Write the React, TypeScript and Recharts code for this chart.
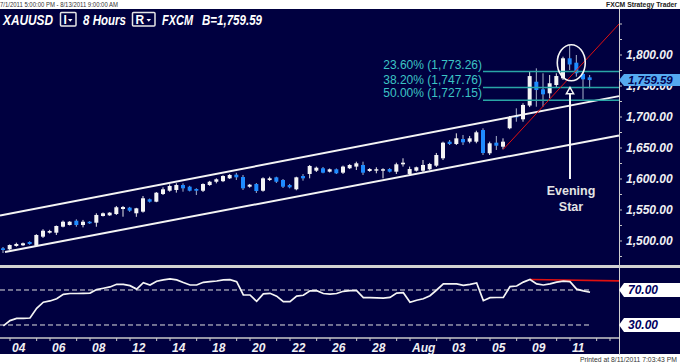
import React from 'react';
import { ComposedChart, Bar, Line, XAxis, YAxis, ReferenceLine, ReferenceDot } from 'recharts';

const NAVY = '#000040';
const FONT = '"Liberation Sans", Arial, sans-serif';

// 8-hour candles, XAU/USD, 1 Jul 2011 – 11 Aug 2011
const OPEN = [1488.2, 1486.6, 1492.0, 1493.1, 1498.4, 1492.4, 1507.0, 1513.4, 1513.4, 1523.1, 1525.8, 1532.7, 1525.8, 1531.1, 1529.5, 1540.3, 1541.4, 1543.5, 1551.6, 1553.8, 1544.7, 1547.3, 1567.3, 1563.4, 1575.8, 1581.1, 1582.3, 1590.3, 1587.6, 1583.9, 1581.1, 1590.3, 1595.6, 1596.5, 1601.1, 1607.0, 1603.2, 1587.6, 1591.9, 1581.1, 1598.4, 1602.7, 1598.4, 1590.3, 1583.4, 1604.8, 1608.1, 1613.4, 1617.3, 1611.8, 1615.7, 1610.2, 1617.3, 1620.0, 1622.6, 1612.9, 1613.4, 1613.4, 1616.1, 1611.8, 1623.7, 1608.1, 1613.4, 1613.4, 1615.7, 1621.5, 1633.4, 1660.2, 1656.5, 1664.5, 1660.2, 1660.2, 1679.0, 1641.5, 1658.6, 1652.1, 1681.8, 1701.6, 1696.3, 1718.5, 1756.9, 1744.7, 1738.2, 1751.6, 1762.4, 1794.7, 1787.6, 1769.4, 1764.0];
const HIGH = [1490.3, 1494.5, 1497.3, 1497.5, 1499.5, 1511.0, 1519.0, 1518.0, 1525.0, 1533.0, 1532.0, 1535.0, 1534.0, 1532.0, 1544.7, 1546.0, 1546.5, 1556.5, 1556.5, 1555.0, 1553.5, 1572.6, 1568.5, 1579.0, 1586.6, 1591.5, 1593.0, 1593.0, 1589.0, 1585.0, 1593.0, 1597.0, 1601.1, 1606.0, 1608.0, 1610.0, 1606.5, 1592.0, 1593.5, 1602.7, 1603.7, 1603.7, 1600.0, 1592.0, 1603.7, 1608.0, 1622.6, 1620.0, 1619.4, 1617.0, 1617.0, 1621.6, 1624.0, 1627.9, 1627.9, 1617.5, 1618.9, 1617.3, 1617.5, 1626.3, 1633.4, 1620.0, 1620.0, 1630.6, 1626.0, 1642.0, 1660.2, 1662.9, 1673.7, 1671.0, 1669.4, 1677.9, 1681.8, 1660.2, 1669.4, 1665.6, 1701.6, 1714.0, 1722.1, 1774.0, 1778.5, 1770.5, 1767.7, 1770.5, 1797.3, 1816.1, 1800.0, 1771.5, 1767.7];
const LOW = [1480.6, 1485.5, 1490.8, 1492.0, 1494.0, 1491.5, 1505.0, 1512.0, 1509.7, 1522.0, 1525.0, 1523.0, 1522.0, 1527.5, 1523.0, 1539.5, 1540.5, 1542.0, 1539.2, 1547.0, 1539.0, 1545.7, 1562.0, 1562.5, 1574.2, 1579.5, 1578.0, 1579.5, 1580.0, 1574.2, 1579.0, 1589.0, 1593.0, 1595.0, 1600.0, 1598.4, 1582.3, 1586.0, 1577.4, 1579.5, 1596.8, 1593.5, 1585.5, 1585.0, 1581.8, 1597.3, 1601.1, 1611.3, 1609.2, 1610.5, 1608.0, 1608.1, 1616.0, 1614.5, 1606.5, 1611.5, 1609.2, 1601.1, 1610.5, 1608.1, 1620.0, 1606.5, 1612.0, 1610.2, 1614.0, 1619.4, 1630.6, 1654.8, 1654.8, 1654.8, 1657.6, 1657.6, 1638.7, 1638.7, 1646.8, 1647.9, 1680.2, 1692.4, 1692.4, 1716.0, 1716.6, 1716.6, 1730.2, 1747.0, 1759.7, 1775.8, 1765.0, 1728.5, 1746.3];
const CLOSE = [1485.5, 1493.5, 1495.2, 1496.3, 1495.2, 1509.7, 1516.6, 1516.1, 1524.2, 1531.1, 1531.1, 1525.8, 1531.1, 1528.5, 1542.0, 1544.7, 1545.7, 1554.4, 1554.8, 1548.9, 1552.7, 1568.9, 1563.4, 1577.9, 1583.4, 1588.7, 1590.3, 1585.0, 1581.1, 1581.1, 1591.9, 1595.6, 1599.5, 1604.8, 1606.5, 1602.7, 1585.0, 1590.8, 1580.6, 1601.1, 1601.1, 1595.6, 1587.6, 1586.6, 1602.7, 1601.1, 1621.0, 1618.2, 1610.2, 1615.7, 1609.2, 1620.0, 1622.6, 1625.3, 1610.2, 1616.1, 1615.7, 1615.7, 1611.8, 1623.7, 1626.3, 1616.1, 1618.9, 1622.6, 1624.2, 1638.7, 1658.6, 1656.5, 1665.6, 1659.2, 1665.6, 1675.3, 1641.9, 1657.6, 1653.7, 1660.2, 1699.5, 1699.5, 1719.4, 1766.0, 1743.5, 1736.6, 1754.4, 1766.1, 1794.7, 1784.7, 1770.5, 1760.8, 1759.59];

// oscillator (lower panel)
const OSC = [29, 35, 37.5, 37.5, 38, 49, 56, 57.5, 60, 65, 66, 66, 66.2, 66.5, 70.5, 72, 73.5, 76.5, 76.5, 75, 71, 78.3, 75.7, 80, 81.5, 82.6, 81.5, 78.5, 75.7, 75.7, 78.8, 79.5, 80.3, 81.5, 81.8, 79.5, 64.3, 64.3, 57, 65.5, 66.2, 63, 56.6, 56.6, 63, 64, 69, 69.2, 66, 65.2, 66, 68.5, 69.2, 69.2, 61.2, 61.2, 61, 60.7, 61.5, 66.5, 66.9, 55.9, 58.3, 60, 63.5, 70, 76.9, 76.9, 76.9, 75.2, 76.5, 78, 57.8, 61.2, 61.4, 61.6, 73.8, 74.6, 79, 82, 77, 75.7, 77, 79, 80.2, 79.5, 71, 69, 67.4];

const LAST_PRICE = 1759.59;
const PRICE_TICKS = [1475, 1500, 1525, 1550, 1575, 1600, 1625, 1650, 1675, 1700, 1725, 1750, 1775, 1800, 1825, 1850, LAST_PRICE];
const DAY_LABELS: Record<number, string> = { 1: '04', 7: '06', 13: '08', 19: '12', 25: '14', 31: '18', 37: '20', 43: '22', 49: '26', 55: '28', 61: 'Aug', 67: '03', 73: '05', 79: '09', 85: '11' };
const FIB_PCT = ['23.60%', '38.20%', '50.00%'];
const FIB_VAL = [1773.26, 1747.76, 1727.15];
const CHANNEL_UPPER = [{ x: -0.5, y: 1541.0 }, { x: 92.35, y: 1733.7 }];
const CHANNEL_LOWER = [{ x: 0.25, y: 1482.3 }, { x: 92.35, y: 1670.3 }];
const TREND = [{ x: 75, y: 1647.9 }, { x: 92.35, y: 1850 }];
const OSC_RES = [{ x: 79, y: 82 }, { x: 92.35, y: 80.4 }];
const OSC_LEVELS = [70, 30];

const X_DOMAIN: [number, number] = [-0.5, 92.35];

const candles = OPEN.map((o, i) => ({ i, o, h: HIGH[i], l: LOW[i], c: CLOSE[i], range: [LOW[i], HIGH[i]] }));
const oscData = OSC.map((v, i) => ({ i, v }));
const xTicks: number[] = [];
for (let i = 1; i <= 91; i += 2) { if ((i - 1) % 6 !== 2) xTicks.push(i); }

const fmtPrice = (v: number) => v.toLocaleString('en-US', { minimumFractionDigits: 2, maximumFractionDigits: 2 });

const Candle = (props: any) => {
  const { x, y, width, height, payload } = props;
  if (x == null || !payload) return null;
  const { o, h, l, c } = payload;
  const ratio = h - l > 0 ? height / (h - l) : 0;
  const cx = x + width / 2;
  const top = y + (h - Math.max(o, c)) * ratio;
  const bot = y + (h - Math.min(o, c)) * ratio;
  const up = c >= o;
  return (
    <g>
      <line x1={cx} x2={cx} y1={y} y2={y + height} stroke={up ? '#e6e6e6' : '#a9b4cc'} strokeWidth={1} />
      <rect x={cx - 2} y={top} width={4} height={Math.max(bot - top, 1.2)} fill={up ? '#f4f4f4' : '#1f8bff'} />
    </g>
  );
};

const PriceTick = (props: any) => {
  const { x, y, payload } = props;
  const v = payload.value;
  if (v === LAST_PRICE) {
    const pts = `${x},${y} ${x + 5},${y - 6} ${x + 61},${y - 6} ${x + 61},${y + 6} ${x + 5},${y + 6}`;
    return (
      <g>
        <polygon points={pts} fill="#55aaf0" />
        <text x={x + 9} y={y + 4.2} fill="#000050" fontSize={11.5} fontWeight="bold" fontStyle="italic" fontFamily={FONT}>
          {fmtPrice(v)}
        </text>
      </g>
    );
  }
  const show = v % 50 === 0 && v >= 1500 && v <= 1800;
  return (
    <g>
      <line x1={x} x2={x + 3} y1={y} y2={y} stroke="#c8c8c8" />
      {show && (
        <text x={x + 7} y={y + 4.3} fill="#f0f0f4" fontSize={12} fontWeight="bold" fontStyle="italic" fontFamily={FONT}>
          {fmtPrice(v)}
        </text>
      )}
    </g>
  );
};

const DayTick = (props: any) => {
  const { x, y, payload } = props;
  const lab = DAY_LABELS[payload.value];
  return (
    <g>
      <line x1={x} x2={x} y1={y} y2={y + 3} stroke="#c8c8c8" />
      {lab && (
        <text x={x + 2} y={y + 14} fill="#f0f0f4" fontSize={12} fontWeight="bold" fontStyle="italic" fontFamily={FONT}>
          {lab}
        </text>
      )}
    </g>
  );
};

const FibLabel = (props: any) => {
  const { viewBox, text } = props;
  if (!viewBox) return null;
  return (
    <text x={viewBox.x - 1} y={viewBox.y - 3} textAnchor="end" fill="#3cc4c4" fontSize={12} fontFamily={FONT}>
      {text}
    </text>
  );
};

const Badge = (props: any) => {
  const { viewBox, text, fill, color, half } = props;
  if (!viewBox) return null;
  const x0 = viewBox.x + viewBox.width;
  const y = viewBox.y;
  const pts = `${x0},${y} ${x0 + 5},${y - half} ${x0 + 61},${y - half} ${x0 + 61},${y + half} ${x0 + 5},${y + half}`;
  return (
    <g>
      <polygon points={pts} fill={fill} />
      <text x={x0 + 9} y={y + 4.3} fill={color} fontSize={12} fontWeight="bold" fontStyle="italic" fontFamily={FONT}>
        {text}
      </text>
    </g>
  );
};

export default function App() {
  return (
    <div style={{ position: 'absolute', left: 0, top: 0, width: 680, height: 363, background: '#fff', overflow: 'hidden', fontFamily: FONT }}>
      <div style={{ position: 'absolute', left: 0, top: 9, width: 680, height: 256, background: NAVY }} />
      <div style={{ position: 'absolute', left: 0, top: 265, width: 680, height: 3, background: '#d2d2d2' }} />
      <div style={{ position: 'absolute', left: 0, top: 268, width: 680, height: 86, background: NAVY }} />
      <div style={{ position: 'absolute', left: 619, top: 9, width: 1, height: 346, background: '#d0d0d0' }} />

      <div style={{ position: 'absolute', left: 0, top: 9 }}>
        <ComposedChart width={680} height={255} data={candles} margin={{ top: 0, right: 0, bottom: 0, left: 0 }}>
          <XAxis type="number" dataKey="i" domain={X_DOMAIN} hide allowDataOverflow />
          <YAxis orientation="right" width={61} domain={[1462.9, 1874.2]} allowDataOverflow ticks={PRICE_TICKS} interval={0}
            tick={<PriceTick />} tickLine={false} axisLine={false} tickSize={0} tickMargin={0} />
          <ReferenceLine segment={CHANNEL_UPPER} stroke="#f4f4f4" strokeWidth={2} ifOverflow="visible" />
          <ReferenceLine segment={CHANNEL_LOWER} stroke="#f4f4f4" strokeWidth={2} ifOverflow="visible" />
          {FIB_VAL.map((v, k) => (
            <ReferenceLine key={k} segment={[{ x: 71.95, y: v }, { x: 92.35, y: v }]} stroke="#29a6a6" strokeWidth={1.5}
              ifOverflow="visible" label={<FibLabel text={`${FIB_PCT[k]} (${fmtPrice(v)})`} />} />
          ))}
          <Bar dataKey="range" barSize={4} shape={(p: any) => <Candle {...p} />} isAnimationActive={false} />
          <ReferenceLine segment={TREND} stroke="#e01010" strokeWidth={1} ifOverflow="visible" />
          <ReferenceDot x={85.19} y={1787.4} ifOverflow="visible"
            shape={(p: any) => <ellipse cx={p.cx} cy={p.cy} rx={14} ry={18} fill="none" stroke="#f4f4f4" strokeWidth={1.6} />} />
          <ReferenceLine segment={[{ x: 85, y: 1600 }, { x: 85, y: 1737.5 }]} stroke="#f4f4f4" strokeWidth={2} ifOverflow="visible" />
          <ReferenceDot x={85} y={1747.6} ifOverflow="visible"
            shape={(p: any) => <polygon points={`${p.cx},${p.cy} ${p.cx - 3.6},${p.cy + 6.2} ${p.cx + 3.6},${p.cy + 6.2}`} fill={NAVY} stroke="#f4f4f4" strokeWidth={1.5} />} />
          <ReferenceDot x={85} y={1574.2} ifOverflow="visible"
            shape={(p: any) => (
              <g fill="#e4e4e4" fontSize={12.5} fontWeight="bold" fontFamily={FONT} textAnchor="middle">
                <text x={p.cx + 1} y={p.cy}>Evening</text>
                <text x={p.cx + 1} y={p.cy + 15.7}>Star</text>
              </g>
            )} />
        </ComposedChart>
      </div>

      <div style={{ position: 'absolute', left: 0, top: 269 }}>
        <ComposedChart width={680} height={85} data={oscData} margin={{ top: 0, right: 0, bottom: 0, left: 0 }}>
          <XAxis type="number" dataKey="i" domain={X_DOMAIN} allowDataOverflow height={16} ticks={xTicks} interval={0}
            tick={<DayTick />} tickLine={false} tickSize={0} tickMargin={0} axisLine={{ stroke: '#c8c8c8', strokeWidth: 1.5 }} />
          <YAxis orientation="right" width={61} domain={[15.14, 94]} allowDataOverflow tick={false} axisLine={false} tickLine={false} />
          {OSC_LEVELS.map((lv) => (
            <ReferenceLine key={`d${lv}`} segment={[{ x: -0.5, y: lv }, { x: 88, y: lv }]} stroke="#e0e0e0" strokeWidth={1} strokeDasharray="5 3" ifOverflow="visible" />
          ))}
          {OSC_LEVELS.map((lv) => (
            <ReferenceLine key={`b${lv}`} y={lv} stroke="none" ifOverflow="visible"
              label={<Badge text={`${lv}.00`} fill="#ffffff" color="#000060" half={7} />} />
          ))}
          <ReferenceLine segment={OSC_RES} stroke="#e01010" strokeWidth={1.6} ifOverflow="visible" />
          <Line dataKey="v" type="linear" stroke="#f4f4f4" strokeWidth={1.7} dot={false} isAnimationActive={false} />
        </ComposedChart>
      </div>

      <svg width={680} height={363} style={{ position: 'absolute', left: 0, top: 0, pointerEvents: 'none' }}>
        <text x={0} y={7.3} fontSize={7} fill="#333" textLength={118} lengthAdjust="spacingAndGlyphs">7/1/2011 5:00:00 PM - 8/13/2011 9:00:00 AM</text>
        <text x={606} y={7.3} fontSize={7} fontWeight="bold" fill="#222" textLength={71} lengthAdjust="spacingAndGlyphs">FXCM Strategy Trader</text>
        <g fill="#ffffff" fontWeight="bold" fontStyle="italic" fontSize={14}>
          <text x={3} y={25} textLength={50} lengthAdjust="spacingAndGlyphs">XAUUSD</text>
          <rect x={60.5} y={12.5} width={15.5} height={13.5} fill="none" stroke="#e6e6e6" strokeWidth={1.5} rx={1} />
          <text x={63.5} y={24} fontSize={12} fontStyle="normal">I</text>
          <polygon points="68,19 72.5,19 70.25,21.8" />
          <text x={83} y={25} textLength={43} lengthAdjust="spacingAndGlyphs">8 Hours</text>
          <rect x={132.5} y={12.5} width={22.5} height={13.5} fill="none" stroke="#e6e6e6" strokeWidth={1.5} rx={1} />
          <text x={135.5} y={24} fontSize={12} fontStyle="normal">R</text>
          <polygon points="146.5,19 151,19 148.75,21.8" />
          <text x={162} y={25} textLength={31} lengthAdjust="spacingAndGlyphs">FXCM</text>
          <text x={202} y={25} textLength={60} lengthAdjust="spacingAndGlyphs">B=1,759.59</text>
        </g>
        <text x={580} y={361.5} fontSize={7} fill="#333" textLength={97} lengthAdjust="spacingAndGlyphs">Printed at 8/11/2011 7:03:43 PM</text>
      </svg>
    </div>
  );
}
